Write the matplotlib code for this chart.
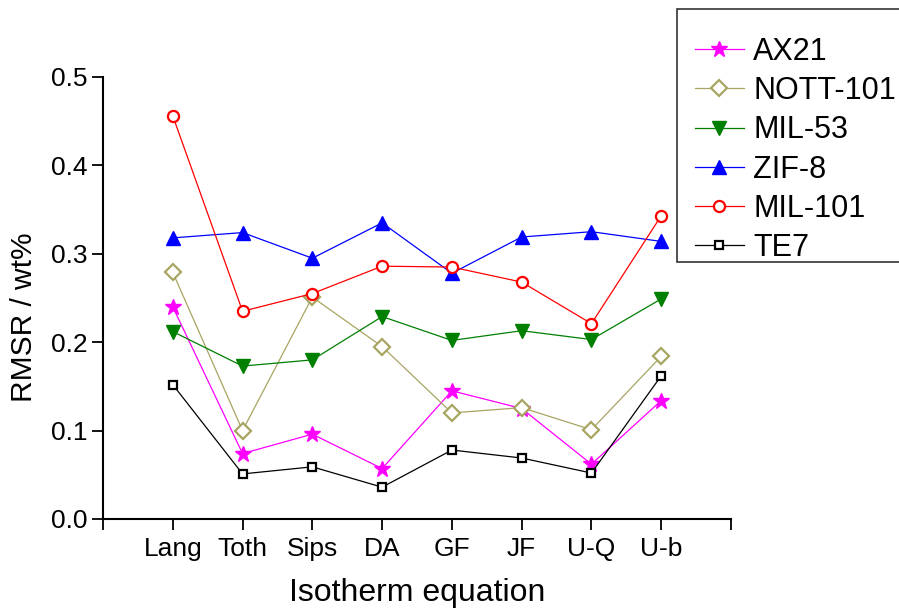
import numpy as np
import matplotlib
matplotlib.use("Agg")
import matplotlib.pyplot as plt
from matplotlib.patches import Rectangle

equations = ["Lang", "Toth", "Sips", "DA", "GF", "JF", "U-Q", "U-b"]

ax21 = [0.240, 0.074, 0.096, 0.057, 0.145, 0.125, 0.062, 0.134]
nott101 = [0.279, 0.100, 0.251, 0.195, 0.120, 0.126, 0.101, 0.184]
mil53 = [0.212, 0.173, 0.180, 0.229, 0.202, 0.213, 0.203, 0.249]
zif8 = [0.318, 0.324, 0.295, 0.335, 0.278, 0.319, 0.325, 0.314]
mil101 = [0.456, 0.235, 0.255, 0.286, 0.285, 0.268, 0.221, 0.343]
te7 = [0.152, 0.051, 0.059, 0.036, 0.078, 0.069, 0.052, 0.162]

plt.rcParams['font.family'] = ['Liberation Sans', 'DejaVu Sans']

fig = plt.figure(figsize=(8.99, 6.10), dpi=100)
ax = fig.add_axes([103 / 899, 1 - 519 / 610, 628 / 899, 442 / 610])

x = np.arange(1, len(equations) + 1)

# (label, values, color, marker, size, filled)
series = [
    ("AX21", ax21, "#ff00ff", "*", 12, True),
    ("NOTT-101", nott101, "#a8a462", "D", 8, False),
    ("MIL-53", mil53, "#007f00", "v", 10, True),
    ("ZIF-8", zif8, "#0000ff", "^", 10, True),
    ("MIL-101", mil101, "#ff0000", "o", 8, False),
    ("TE7", te7, "#000000", "s", 6, False),
]

for label, vals, col, mk, ms, filled in series:
    ax.plot(x, vals, color=col, marker=mk, markersize=ms, linewidth=0.9,
            markerfacecolor=col if filled else "white", markeredgecolor=col,
            markeredgewidth=1.0 if filled else 1.6, label=label)

ax.set_xlim(0, 9)
ax.set_ylim(0, 0.5)
ax.set_xticks(np.arange(0, 10))
ax.set_xticklabels([""] + equations + [""])
ax.set_yticks([0.0, 0.1, 0.2, 0.3, 0.4, 0.5])
ax.set_yticklabels(["0.0", "0.1", "0.2", "0.3", "0.4", "0.5"])

for side in ["top", "right"]:
    ax.spines[side].set_visible(False)
for side in ["left", "bottom"]:
    ax.spines[side].set_linewidth(1.5)

ax.tick_params(axis='both', direction='out', length=8, width=1.3, labelsize=19)
ax.tick_params(axis='x', pad=5)
ax.tick_params(axis='y', pad=3)

ax.set_xlabel("Isotherm equation", fontsize=23, labelpad=12)
ax.set_ylabel("RMSR / wt%", fontsize=21.5)
ax.yaxis.set_label_coords(-0.104, 0.457)

# legend frame runs off the right edge of the figure
frame = Rectangle((677 / 899, 1 - 262 / 610), 240 / 899, 253 / 610,
                  transform=fig.transFigure, facecolor="white",
                  edgecolor="#333333", linewidth=1.2, zorder=5)
fig.patches.append(frame)

h, l = ax.get_legend_handles_labels()
leg = fig.legend(h, l, loc="upper left", bbox_to_anchor=(695 / 899, 1 - 37 / 610),
                 frameon=False, fontsize=22, handlelength=1.6, handletextpad=0.3,
                 labelspacing=0.3, borderpad=0, borderaxespad=0)
leg.set_zorder(6)

fig.savefig("out.png", dpi=100)
